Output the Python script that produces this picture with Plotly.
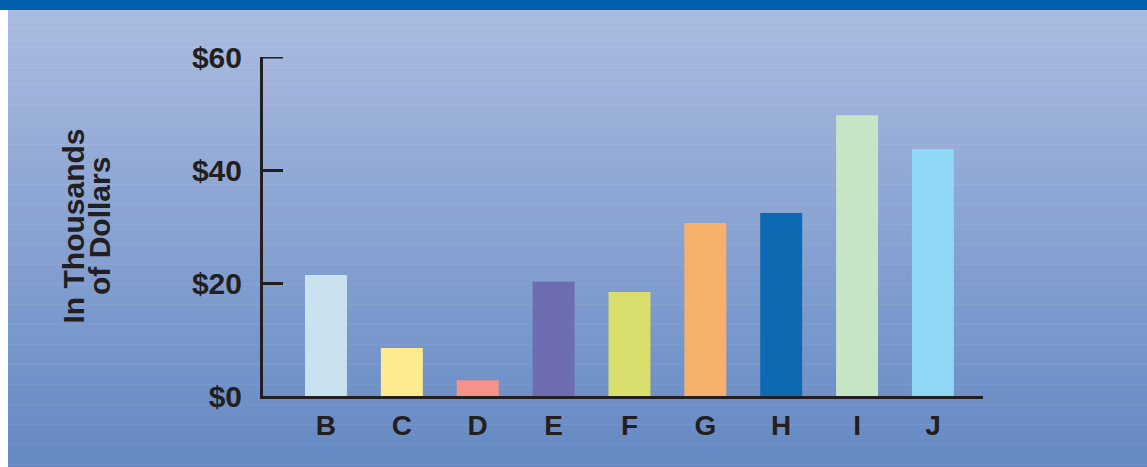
import plotly.graph_objects as go

categories = ["B", "C", "D", "E", "F", "G", "H", "I", "J"]
values = [21.4, 8.5, 2.8, 20.2, 18.4, 30.6, 32.4, 49.7, 43.7]
bar_colors = ["#cae1ef", "#ffeb8f", "#f69389", "#6f6db1", "#dade6c",
              "#f6b06b", "#0d69b2", "#c6e4c6", "#8ed8f6"]
y_ticks = [0, 20, 40, 60]
y_tick_labels = ["$0", "$20", "$40", "$60"]
title_lines = ["In Thousands", "of Dollars"]

W, H = 1147, 467
L, R, T, B = 263, 983, 57, 396
ink = "#231f20"
font = "Liberation Sans, Arial, Helvetica, sans-serif"
TICKLEN = 20

def px_x(px):
    return (px - L) / (R - L)

def px_y(py):
    return (B - py) / (B - T)

fig = go.Figure(go.Bar(
    x=list(range(len(categories))),
    y=values,
    marker=dict(color=bar_colors, line=dict(width=0)),
    width=0.553,
))

shapes = []
# gradient background
top_c = (171, 187, 224)
bot_c = (100, 137, 195)
y0, y1 = 10, H
n = 160
for i in range(n):
    a = y0 + (y1 - y0) * i / n
    b = y0 + (y1 - y0) * (i + 1) / n
    t = (i + 0.5) / n
    c = tuple(round(top_c[k] + (bot_c[k] - top_c[k]) * t) for k in range(3))
    shapes.append(dict(type="rect", xref="paper", yref="paper",
                       x0=px_x(8), x1=px_x(W + 2), y0=px_y(b + 0.6), y1=px_y(a),
                       fillcolor="rgb(%d,%d,%d)" % c, line=dict(width=0), layer="below"))
# top band
shapes.append(dict(type="rect", xref="paper", yref="paper",
                   x0=px_x(-2), x1=px_x(W + 2), y0=px_y(10), y1=px_y(-2),
                   fillcolor="#0060ac", line=dict(width=0), layer="below"))
# top tick (plotly drops the inside tick at the range edge)
shapes.append(dict(type="line", xref="paper", yref="y",
                   x0=0, x1=TICKLEN / (R - L), y0=y_ticks[-1], y1=y_ticks[-1],
                   line=dict(color=ink, width=3), layer="above"))

annotations = []
for i, line in enumerate(title_lines):
    annotations.append(dict(text="<b>%s</b>" % line, xref="paper", yref="paper",
                            x=px_x(73 + i * 26.5), y=0.5, textangle=-90,
                            showarrow=False, xanchor="center", yanchor="middle",
                            font=dict(family=font, size=30, color=ink)))

fig.update_layout(
    width=W, height=H,
    margin=dict(l=L, r=W - R, t=T, b=H - B, pad=0),
    paper_bgcolor="white",
    plot_bgcolor="rgba(0,0,0,0)",
    showlegend=False,
    shapes=shapes,
    annotations=annotations,
    xaxis=dict(
        range=[-0.83, 8.66],
        tickmode="array",
        tickvals=list(range(len(categories))),
        ticktext=["<b>%s</b>" % c for c in categories],
        showline=True, linecolor=ink, linewidth=3,
        ticks="", showgrid=False, zeroline=False,
        tickfont=dict(family=font, size=28, color=ink),
        ticklabelstandoff=2,
        fixedrange=True,
    ),
    yaxis=dict(
        range=[0, 60],
        tickmode="array",
        tickvals=y_ticks,
        ticktext=["<b>%s</b>" % t for t in y_tick_labels],
        showline=True, linecolor=ink, linewidth=3,
        ticks="inside", ticklen=TICKLEN, tickwidth=3, tickcolor=ink,
        showgrid=False, zeroline=False,
        tickfont=dict(family=font, size=30, color=ink),
        ticklabelstandoff=12,
        fixedrange=True,
    ),
)

fig.write_html("out.html", config={"displayModeBar": False})
